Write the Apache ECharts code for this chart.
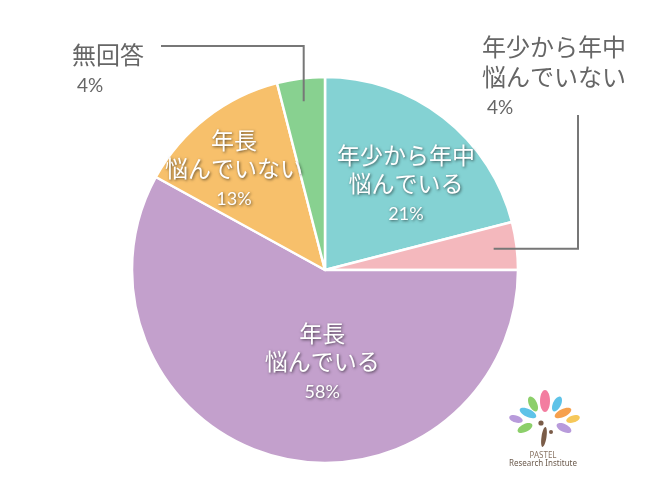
<!DOCTYPE html>
<html><head><meta charset="utf-8">
<script src="https://cdn.jsdelivr.net/npm/echarts@6/dist/echarts.min.js"></script>
<style>html,body{margin:0;padding:0;background:#fff}#c{width:650px;height:502px}</style>
</head><body><div id="c"></div>
<script>
// ---- data ----
const categories = ['年少から年中悩んでいる','年少から年中悩んでいない','年長悩んでいる','年長悩んでいない','無回答'];
const labelLines = [['年少から年中','悩んでいる'],['年少から年中','悩んでいない'],['年長','悩んでいる'],['年長','悩んでいない'],['無回答']];
const values = [21, 4, 58, 13, 4];
const colors = ['#84D2D3','#F4B8BD','#C3A0CC','#F7C06B','#88D190'];
const insideFlags = [true, false, true, true, false];

// ---- layout ----
const CX = 325, CY = 270, R = 193;
const insideOffsets = [[20,-5],[0,0],[22,-2],[-30,-20],[0,0]];
const outsidePos = {1: [482, 32], 4: [72, 40]};

const total = values.reduce((a,b)=>a+b,0);
let cum = 0;
const mids = values.map(v => { const m = (cum + v/2) / total * 2 * Math.PI; cum += v; return m; });
function pt(i, r) { return [CX + r*Math.sin(mids[i]), CY - r*Math.cos(mids[i])]; }

const chart = echarts.init(document.getElementById('c'));
const jp = '"Noto Sans CJK JP", "Noto Sans", sans-serif';
const shadow = {textShadowColor:'rgba(0,0,0,0.6)', textShadowBlur:3, textShadowOffsetX:1, textShadowOffsetY:1};

const data = categories.map((name, i) => ({
  name, value: values[i], itemStyle: {color: colors[i]}
}));

const a4 = pt(4, 170), a1 = pt(1, 170);
const lineStyle = {stroke:'#777', lineWidth:2, fill:null};

function leaf(x, y, rx, ry, rot, color) {
  return {type:'ellipse', x, y, rotation: rot, shape:{cx:0, cy:0, rx, ry}, style:{fill: color}, z: 50};
}

chart.setOption({
  animation: false,
  backgroundColor: '#fff',
  series: [{
    type: 'pie',
    center: [CX, CY],
    radius: R,
    startAngle: 90,
    clockwise: true,
    silent: true,
    itemStyle: {borderColor:'#fff', borderWidth:2.5},
    label: {
      show: true,
      position: 'inside',
      formatter: p => {
        const i = p.dataIndex;
        const k = insideFlags[i] ? '' : 'o';
        return labelLines[i].map(s => '{' + k + 'n|' + s + '}').join('\n') + '\n{' + k + 'p|' + p.value + '%}';
      },
      rich: {
        n: Object.assign({fontFamily: jp, fontSize: 23, lineHeight: 28, color:'#fff', align:'center'}, shadow),
        p: Object.assign({fontFamily: 'Lato, "Noto Sans", sans-serif', fontSize: 18, lineHeight: 34, color:'#fff', align:'center'}, shadow),
        on: {fontFamily: jp, fontSize: 24, lineHeight: 30, color:'#666', align:'left'},
        op: {fontFamily: 'Lato, "Noto Sans", sans-serif', fontSize: 19, lineHeight: 32, color:'#666', align:'left', padding:[0,0,0,5]}
      }
    },
    labelLine: {show: false},
    labelLayout: params => {
      const i = params.dataIndex;
      if (insideFlags[i]) return {dx: insideOffsets[i][0], dy: insideOffsets[i][1]};
      return {x: outsidePos[i][0], y: outsidePos[i][1], align:'left', verticalAlign:'top'};
    },
    data
  }],
  graphic: [
    {type:'polyline', z:100, shape:{points:[a4, [a4[0], 46], [161, 46]]}, style: lineStyle},
    {type:'polyline', z:100, shape:{points:[a1, [578, a1[1]], [578, 115]]}, style: lineStyle},
    // logo
    leaf(545, 401, 5, 11, 0, '#F37DA0'),
    leaf(533, 404, 4, 8, 0.45, '#8CCF6A'),
    leaf(557, 404, 4, 8, -0.45, '#5EC3E8'),
    leaf(528, 413, 9, 4, -0.45, '#5EC3E8'),
    leaf(516, 419, 7, 3.5, -0.3, '#B89BDB'),
    leaf(563, 413, 9, 4, 0.45, '#F6A04D'),
    leaf(573, 419, 7, 3.5, 0.3, '#F6C85A'),
    leaf(525, 428, 8, 4, 0.45, '#8CCF6A'),
    leaf(564, 428, 8, 4, -0.45, '#B89BDB'),
    {type:'circle', shape:{cx:541, cy:423, r:2.6}, style:{fill:'#7A5C48'}, z:51},
    {type:'circle', shape:{cx:551, cy:432, r:2}, style:{fill:'#7A5C48'}, z:51},
    {type:'ellipse', x:544, y:437, rotation:-0.15, shape:{cx:0, cy:0, rx:2.5, ry:10}, style:{fill:'#7A5C48'}, z:51},
    {type:'text', x:543, y:456, style:{text:'PASTEL', font:'8px "Liberation Sans Narrow", "Noto Sans", sans-serif', fill:'#8A7565', align:'center', verticalAlign:'middle'}, z:51},
    {type:'text', x:543, y:464, style:{text:'Research Institute', font:'8px "Liberation Sans Narrow", "Noto Sans", sans-serif', fill:'#6B5A4C', align:'center', verticalAlign:'middle'}, z:51}
  ]
});
</script></body></html>
